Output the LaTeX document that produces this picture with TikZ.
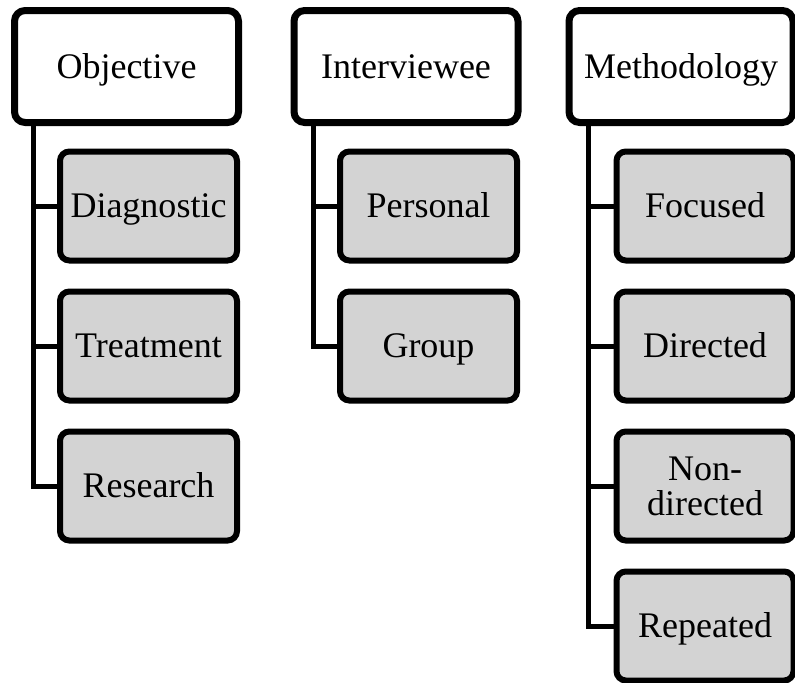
\documentclass[tikz,border=0pt]{standalone}
\usepackage{fontspec}
\setmainfont{Liberation Serif}
\usepackage{tikz}
\usetikzlibrary{calc, shadows}
\definecolor{boxgray}{RGB}{211,211,211}

\begin{document}
\begin{tikzpicture}[x=0.75pt, y=-0.75pt,
    header/.style={draw, line width=5.25pt, rounded corners=8pt, fill=white,
      minimum width=168pt, minimum height=84pt, inner sep=0pt,
      text height=17.8pt, text depth=0pt,
      font=\fontsize{27}{28}\selectfont,
      drop shadow={opacity=0.25, shadow xshift=1.2pt, shadow yshift=-1.5pt}},
    item/.style={draw, line width=4.5pt, rounded corners=7pt, fill=boxgray,
      minimum width=132.75pt, minimum height=81.75pt, inner sep=0pt, align=center,
      text height=17.8pt, text depth=0pt,
      font=\fontsize{27}{26.5}\selectfont},
    link/.style={line width=3.75pt}]
          \useasboundingbox (0,0) rectangle (795,682); % Page size

          \node [header] (obj) at (126.5,66.5) {Objective}; % Header boxes
          \node [header] (intv) at (406,66.5) {Interviewee};
          \node [header] (meth) at (681,66.5) {Methodology};

          \node [item] (diag) at (148.5,206) {Diagnostic}; % Objective column
          \node [item] (treat) at (148.5,346) {Treatment};
          \node [item] (res) at (148.5,486) {Research};

          \node [item] (pers) at (428.5,206) {Personal}; % Interviewee column
          \node [item] (grp) at (428.5,346) {Group};

          \node [item] (foc) at (705,206) {Focused}; % Methodology column
          \node [item] (dir) at (705,346) {Directed};
          \node [item, text height=44.3pt] (nondir) at (705,486) {Non-\\directed};
          \node [item] (rep) at (705,626) {Repeated};

          \coordinate (objT) at ($(obj.south west)+(22.5,0)$);
          \coordinate (intvT) at ($(intv.south west)+(22.5,0)$);
          \coordinate (methT) at ($(meth.south west)+(22.5,0)$);

          \draw [link] (objT) |- (res.west);
          \draw [link] (objT |- diag.west) -- (diag.west);
          \draw [link] (objT |- treat.west) -- (treat.west);

          \draw [link] (intvT) |- (grp.west);
          \draw [link] (intvT |- pers.west) -- (pers.west);

          \draw [link] (methT) |- (rep.west);
          \draw [link] (methT |- foc.west) -- (foc.west);
          \draw [link] (methT |- dir.west) -- (dir.west);
          \draw [link] (methT |- nondir.west) -- (nondir.west);
        \end{tikzpicture}
\end{document}
